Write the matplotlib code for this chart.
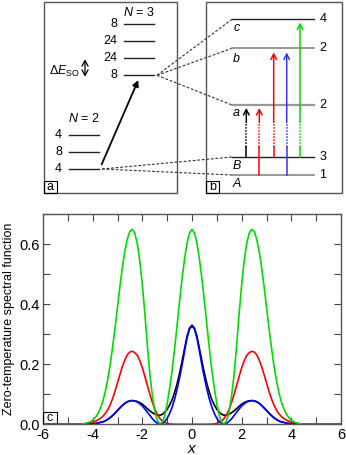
import numpy as np
import matplotlib
matplotlib.use("Agg")
import matplotlib.pyplot as plt
from matplotlib.patches import Rectangle
from matplotlib.ticker import MultipleLocator

plt.rcParams['font.family'] = ['Liberation Sans', 'DejaVu Sans']
plt.rcParams['mathtext.fontset'] = 'custom'
plt.rcParams['mathtext.rm'] = 'Liberation Sans'
plt.rcParams['mathtext.it'] = 'Liberation Sans:italic'

# ---------------- data ----------------
x_grid = np.concatenate([[-6.0], np.round(np.arange(-4.6, 4.61, 0.1), 1), [6.0]])

green = [0,
         0.0003, 0.0006, 0.0012, 0.0025, 0.005, 0.0085, 0.014, 0.022, 0.034, 0.051,
         0.074, 0.106, 0.146, 0.196, 0.255, 0.32, 0.39, 0.46, 0.524, 0.578,
         0.618, 0.643, 0.649, 0.635, 0.60, 0.542, 0.465, 0.37, 0.265, 0.17,
         0.098, 0.045, 0.013, 0.001, 0.006, 0.028, 0.068, 0.12, 0.18, 0.252,
         0.33, 0.41, 0.485, 0.55, 0.603, 0.637, 0.649,
         0.637, 0.603, 0.55, 0.485, 0.41, 0.33,
         0.252, 0.18, 0.12, 0.068, 0.028, 0.006, 0.001, 0.013, 0.045, 0.098,
         0.17, 0.265, 0.37, 0.465, 0.542, 0.60, 0.635, 0.649, 0.643, 0.618,
         0.578, 0.524, 0.46, 0.39, 0.32, 0.255, 0.196, 0.146, 0.106, 0.074,
         0.051, 0.034, 0.022, 0.014, 0.0085, 0.005, 0.0025, 0.0012, 0.0006, 0.0003,
         0]
red = [0,
       0.0003, 0.0006, 0.001, 0.002, 0.003, 0.0045, 0.007, 0.01, 0.014, 0.019,
       0.026, 0.035, 0.047, 0.064, 0.085, 0.11, 0.138, 0.166, 0.193, 0.215,
       0.232, 0.241, 0.243, 0.238, 0.229, 0.211, 0.188, 0.16, 0.13, 0.101,
       0.074, 0.051, 0.033, 0.02, 0.011, 0.006, 0.003, 0.0015, 0.0005, 0.0002,
       0, 0, 0, 0, 0, 0, 0,
       0, 0, 0, 0, 0, 0,
       0.0002, 0.0005, 0.0015, 0.003, 0.006, 0.011, 0.02, 0.033, 0.051, 0.074,
       0.101, 0.13, 0.16, 0.188, 0.211, 0.229, 0.238, 0.243, 0.241, 0.232,
       0.215, 0.193, 0.166, 0.138, 0.11, 0.085, 0.064, 0.047, 0.035, 0.026,
       0.019, 0.014, 0.01, 0.007, 0.0045, 0.003, 0.002, 0.001, 0.0006, 0.0003,
       0]
blue = [0,
        0, 0, 0.0002, 0.0003, 0.0005, 0.001, 0.0015, 0.0025, 0.004, 0.006,
        0.008, 0.011, 0.016, 0.022, 0.029, 0.037, 0.046, 0.055, 0.063, 0.07,
        0.075, 0.078, 0.079, 0.077, 0.074, 0.068, 0.061, 0.051, 0.041, 0.03,
        0.019, 0.01, 0.004, 0.0005, 0.002, 0.009, 0.02, 0.036, 0.057, 0.084,
        0.117, 0.155, 0.197, 0.243, 0.287, 0.317, 0.327,
        0.317, 0.287, 0.243, 0.197, 0.155, 0.117,
        0.084, 0.057, 0.036, 0.02, 0.009, 0.002, 0.0005, 0.004, 0.01, 0.019,
        0.03, 0.041, 0.051, 0.061, 0.068, 0.074, 0.077, 0.079, 0.078, 0.075,
        0.07, 0.063, 0.055, 0.046, 0.037, 0.029, 0.022, 0.016, 0.011, 0.008,
        0.006, 0.004, 0.0025, 0.0015, 0.001, 0.0005, 0.0003, 0.0002, 0, 0,
        0]
black = [0,
         0, 0, 0.0002, 0.0003, 0.0005, 0.001, 0.0015, 0.0025, 0.004, 0.006,
         0.008, 0.011, 0.016, 0.022, 0.029, 0.037, 0.046, 0.055, 0.063, 0.07,
         0.075, 0.078, 0.079, 0.078, 0.076, 0.072, 0.067, 0.06, 0.052, 0.045,
         0.039, 0.034, 0.031, 0.03, 0.033, 0.04, 0.05, 0.064, 0.082, 0.106,
         0.135, 0.17, 0.21, 0.252, 0.293, 0.32, 0.33,
         0.32, 0.293, 0.252, 0.21, 0.17, 0.135,
         0.106, 0.082, 0.064, 0.05, 0.04, 0.033, 0.03, 0.031, 0.034, 0.039,
         0.045, 0.052, 0.06, 0.067, 0.072, 0.076, 0.078, 0.079, 0.078, 0.075,
         0.07, 0.063, 0.055, 0.046, 0.037, 0.029, 0.022, 0.016, 0.011, 0.008,
         0.006, 0.004, 0.0025, 0.0015, 0.001, 0.0005, 0.0003, 0.0002, 0, 0,
         0]

n3_degeneracies = ["8", "24", "24", "8"]
n2_degeneracies = ["4", "8", "4"]
b_degeneracies = ["4", "2", "2", "3", "1"]
b_names = ["c", "b", "a", "B", "A"]
x_ticks = [-6, -4, -2, 0, 2, 4, 6]
y_ticks = [0.0, 0.2, 0.4, 0.6]

# ---------------- figure ----------------
W, H = 346, 455
fig = plt.figure(figsize=(W / 100, H / 100), dpi=100)

ov = fig.add_axes([0, 0, 1, 1])
ov.set_xlim(0, W)
ov.set_ylim(H, 0)
ov.axis('off')

frame_col = '#555555'
# panel boxes
ov.add_patch(Rectangle((43.5, 1.5), 133, 191.5, fill=False, ec=frame_col, lw=1.0))
ov.add_patch(Rectangle((206, 1.5), 135.5, 191.5, fill=False, ec=frame_col, lw=1.0))
# boxed labels
for (x0, lab) in [(43.5, 'a'), (206, 'b')]:
    ov.add_patch(Rectangle((x0, 180.5), 13, 12.5, fill=False, ec='black', lw=0.8))
    ov.text(x0 + 6.5, 187, lab, ha='center', va='center', fontsize=9)

lev_col = '#222222'
# panel a: N=3
n3_y = [24, 41.3, 58.3, 75.3]
for y, d in zip(n3_y, n3_degeneracies):
    ov.plot([124.3, 154], [y, y], color=lev_col, lw=1.0)
    ov.text(117, y, d, ha='right', va='center', fontsize=9)
ov.text(139, 12, r'$N$ = 3', ha='center', va='center', fontsize=9)
# panel a: N=2
n2_y = [134.7, 151.7, 169]
for y, d in zip(n2_y, n2_degeneracies):
    ov.plot([69.3, 98.7], [y, y], color=lev_col, lw=1.0)
    ov.text(62, y, d, ha='right', va='center', fontsize=9)
ov.text(84, 119, r'$N$ = 2', ha='center', va='center', fontsize=9)
# Delta E_SO
ov.text(64, 71, r'$\Delta E_{\mathrm{SO}}$', ha='center', va='center', fontsize=9)
ov.annotate('', xy=(85, 59.3), xytext=(85, 76.7),
            arrowprops=dict(arrowstyle='<->,head_length=0.4,head_width=0.22', lw=0.9,
                            color='black', shrinkA=0, shrinkB=0, mutation_scale=10))
# excitation arrow
ov.annotate('', xy=(138.3, 80), xytext=(101.7, 164.3),
            arrowprops=dict(arrowstyle='-|>', lw=1.3, color='black',
                            shrinkA=0, shrinkB=0, mutation_scale=9))

# dashed connectors
b_y = [19.3, 48.3, 105, 157, 175]
dash_kw = dict(color='#333333', lw=0.8, dashes=(2.5, 1.6))
for yy in b_y[:3]:
    ov.plot([157, 232], [75.3, yy], **dash_kw)
for yy in b_y[3:]:
    ov.plot([102, 232], [169, yy], **dash_kw)

# panel b levels
b_cols = ['#222222', '#888888', '#999999', '#222222', '#888888']
b_lw = [1.0, 1.2, 1.6, 1.0, 1.2]
name_y = [28.3, 59.3, 113.3, 165.7, 184]
for y, d, nm, ny, c, lw in zip(b_y, b_degeneracies, b_names, name_y, b_cols, b_lw):
    ov.plot([232, 314.3], [y, y], color=c, lw=lw)
    ov.text(322.7, y, d, ha='center', va='center', fontsize=9)
    ov.text(236.5, ny, nm, ha='center', va='center', fontsize=9, style='italic')

# transition arrows: x, start, tip, colour
arrows = [(246.3, 157, 108, 'black'), (259.3, 175, 108, '#ff0000'),
          (273.7, 157, 52.5, '#ff0000'), (286.7, 175, 52.5, '#3333ff'),
          (300.0, 157, 22.5, '#00dd00')]
for ax_, y0, y1, c in arrows:
    ov.plot([ax_, ax_], [y0, 146.7], color=c, lw=1.1)
    ov.plot([ax_, ax_], [146.7, 122.5], color=c, lw=1.1, ls=(0, (1, 1)))
    ov.annotate('', xy=(ax_, y1), xytext=(ax_, 122.5),
                arrowprops=dict(arrowstyle='->,head_length=0.38,head_width=0.2', lw=1.1,
                                color=c, shrinkA=0, shrinkB=0, mutation_scale=10))

# ---------------- panel c ----------------
ax = fig.add_axes([43 / W, 1 - 424.3 / H, 298 / W, (424.3 - 214) / H])
ax.plot(x_grid, black, color='black', lw=1.2)
ax.plot(x_grid, red, color='#ff0000', lw=1.2)
ax.plot(x_grid, blue, color='#0000ff', lw=1.2)
ax.plot(x_grid, green, color='#00dd00', lw=1.2)
ax.set_xlim(-6, 6)
ax.set_ylim(0, 0.7)
ax.set_xticks(x_ticks)
ax.set_yticks(y_ticks)
ax.set_xticklabels([str(t) for t in x_ticks])
ax.set_yticklabels([f'{t:.1f}' for t in y_ticks])
ax.xaxis.set_minor_locator(MultipleLocator(1))
ax.yaxis.set_minor_locator(MultipleLocator(0.1))
ax.tick_params(which='both', direction='in', top=True, right=True, labelsize=10.5,
               color='#444444', width=0.8)
ax.tick_params(which='major', length=5, pad=2.5)
ax.tick_params(which='minor', length=5)
for s in ax.spines.values():
    s.set_color('#555555')
    s.set_linewidth(1.0)
ax.set_xlabel(r'$x$', fontsize=11, labelpad=0)
ax.set_ylabel('Zero-temperature spectral function', fontsize=9, labelpad=3)
ax.add_patch(Rectangle((0, 0), 14 / 298, 12.5 / 210.3, transform=ax.transAxes,
                       fill=False, ec='black', lw=0.8, zorder=5))
ax.text(7 / 298, 6.2 / 210.3, 'c', transform=ax.transAxes, ha='center', va='center',
        fontsize=9)

fig.savefig('out.png', dpi=100)
